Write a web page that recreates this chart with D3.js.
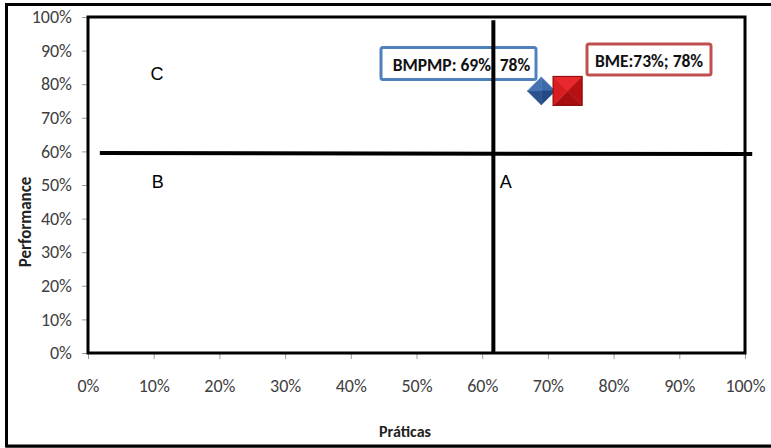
<!DOCTYPE html>
<html>
<head>
<meta charset="utf-8">
<script src="https://cdn.jsdelivr.net/npm/d3@7"></script>
<style>
  html, body { margin: 0; padding: 0; background: #fff; }
  svg { display: block; }
</style>
</head>
<body>
<svg id="chart" width="771" height="448"></svg>
<script>
// Series: practice score (x) and performance score (y) per unit
const seriesNames = ["BMPMP", "BME"];
const praticas = [0.69, 0.73];
const performance = [0.78, 0.78];
const pointLabels = ["BMPMP: 69%; 78%", "BME:73%; 78%"];

// Quadrant split values and quadrant names
const splitPraticas = 0.617;
const splitPerformance = 0.595;
const quadrantNames = ["C", "B", "A"];
const quadrantX = [0.105, 0.106, 0.636];
const quadrantY = [0.83, 0.51, 0.51];

// Axis ticks
const tickValues = [0, 0.1, 0.2, 0.3, 0.4, 0.5, 0.6, 0.7, 0.8, 0.9, 1.0];
const tickLabels = ["0%", "10%", "20%", "30%", "40%", "50%", "60%", "70%", "80%", "90%", "100%"];

const svg = d3.select("#chart");
const plotL = 88, plotR = 745, plotT = 17, plotB = 353;
const x = d3.scaleLinear().domain([0, 1]).range([plotL, plotR]);
const y = d3.scaleLinear().domain([0, 1]).range([plotB, plotT]);
const calibri = "Carlito, Calibri, Lato, 'Open Sans', sans-serif";

// Outer chart frame (right edge runs past the canvas)
svg.append("path")
  .attr("d", `M 790 4.5 L 6.5 4.5 L 6.5 446 L 790 446`)
  .attr("fill", "none").attr("stroke", "#000").attr("stroke-width", 3);
svg.append("line").attr("x1", 6).attr("x2", 790).attr("y1", 446.5).attr("y2", 446.5)
  .attr("stroke", "#000").attr("stroke-width", 2);

// Axes
const xAxis = d3.axisBottom(x).tickValues(tickValues)
  .tickFormat((d, i) => tickLabels[i]).tickSize(6).tickPadding(20);
const yAxis = d3.axisLeft(y).tickValues(tickValues)
  .tickFormat((d, i) => tickLabels[i]).tickSize(6).tickPadding(10);

const gx = svg.append("g").attr("transform", `translate(0,${plotB})`).call(xAxis);
const gy = svg.append("g").attr("transform", `translate(${plotL},0)`).call(yAxis);
[gx, gy].forEach(g => {
  g.select(".domain").remove();
  g.selectAll(".tick line").attr("stroke", "#9a9a9a").attr("stroke-width", 1);
  g.selectAll(".tick text").attr("fill", "#404040").style("font-family", calibri).style("font-size", "18px");
});

// Plot area border
svg.append("rect")
  .attr("x", plotL).attr("y", plotT).attr("width", plotR - plotL).attr("height", plotB - plotT)
  .attr("fill", "none").attr("stroke", "#000").attr("stroke-width", 3);

// Horizontal quadrant divider
svg.append("line")
  .attr("x1", x(0.018)).attr("x2", x(1.011))
  .attr("y1", y(splitPerformance)).attr("y2", y(splitPerformance) + 1)
  .attr("stroke", "#000").attr("stroke-width", 4);

// Quadrant names
svg.selectAll("text.quad").data(quadrantNames).join("text")
  .attr("class", "quad")
  .attr("x", (d, i) => x(quadrantX[i])).attr("y", (d, i) => y(quadrantY[i]))
  .attr("text-anchor", "middle").attr("dominant-baseline", "central")
  .style("font-family", "'Liberation Sans', Arial, sans-serif")
  .style("font-size", "18px").attr("fill", "#000")
  .text(d => d);

// Axis titles
svg.append("text")
  .attr("transform", `translate(25,222) rotate(-90)`)
  .attr("text-anchor", "middle").attr("dominant-baseline", "central")
  .style("font-family", calibri).style("font-weight", "bold").style("font-size", "17px")
  .attr("fill", "#222").text("Performance");
svg.append("text")
  .attr("x", 405).attr("y", 431)
  .attr("text-anchor", "middle").attr("dominant-baseline", "central")
  .style("font-family", calibri).style("font-weight", "bold").style("font-size", "16px")
  .attr("fill", "#222").text("Práticas");

// Data labels (boxed callouts)
const labelBoxes = [
  { cx: 458.5, cy: 63.5, w: 155, h: 32, stroke: "#4f81bd" },
  { cx: 649, cy: 59.5, w: 124, h: 31, stroke: "#c0504d" }
];
pointLabels.forEach((t, i) => {
  const b = labelBoxes[i];
  svg.append("rect")
    .attr("x", b.cx - b.w / 2).attr("y", b.cy - b.h / 2)
    .attr("width", b.w).attr("height", b.h).attr("rx", 2)
    .attr("fill", "#fff").attr("stroke", b.stroke).attr("stroke-width", 3);
  const txt = svg.append("text")
    .attr("x", b.cx).attr("y", b.cy + 1)
    .attr("text-anchor", "middle").attr("dominant-baseline", "central")
    .style("font-family", calibri).style("font-weight", "bold").style("font-size", "17.5px")
    .attr("fill", "#111").text(t);
  // The first callout straddles the vertical divider: sit its separator under the line
  if (i === 0) {
    const node = txt.node();
    const k = t.indexOf(";");
    const box = node.getExtentOfChar(k);
    const shift = x(splitPraticas) - (box.x + box.width / 2);
    txt.attr("x", b.cx + shift);
  }
});

// Vertical quadrant divider, drawn over the callouts
svg.append("line")
  .attr("x1", x(splitPraticas)).attr("x2", x(splitPraticas))
  .attr("y1", y(0.99)).attr("y2", plotB)
  .attr("stroke", "#000").attr("stroke-width", 4);

// Markers with bevelled faces
function bevel(g, cx, cy, pts, shades) {
  for (let k = 0; k < pts.length; k++) {
    const a = pts[k], b = pts[(k + 1) % pts.length];
    g.append("path")
      .attr("d", `M${cx},${cy} L${cx + a[0]},${cy + a[1]} L${cx + b[0]},${cy + b[1]} Z`)
      .attr("fill", shades[k]).attr("stroke", shades[k]).attr("stroke-width", 0.5);
  }
}
const gm = svg.append("g");
// BMPMP: diamond
{
  const cx = x(praticas[0]), cy = y(performance[0]), r = 14;
  bevel(gm, cx, cy, [[0, -r], [r, 0], [0, r], [-r, 0]],
    ["#3d6aa8", "#224a85", "#2a528c", "#4674b2"]);
}
// BME: square
{
  const cx = x(praticas[1]), cy = y(performance[1]), h = 14.5;
  bevel(gm, cx, cy, [[-h, -h], [h, -h], [h, h], [-h, h]],
    ["#e8282c", "#b80f12", "#a80d10", "#d81c20"]);
  gm.append("rect").attr("x", cx - h).attr("y", cy - h).attr("width", 2 * h).attr("height", 2 * h)
    .attr("fill", "none").attr("stroke", "#8c0a0c").attr("stroke-width", 1);
}
</script>
</body>
</html>
